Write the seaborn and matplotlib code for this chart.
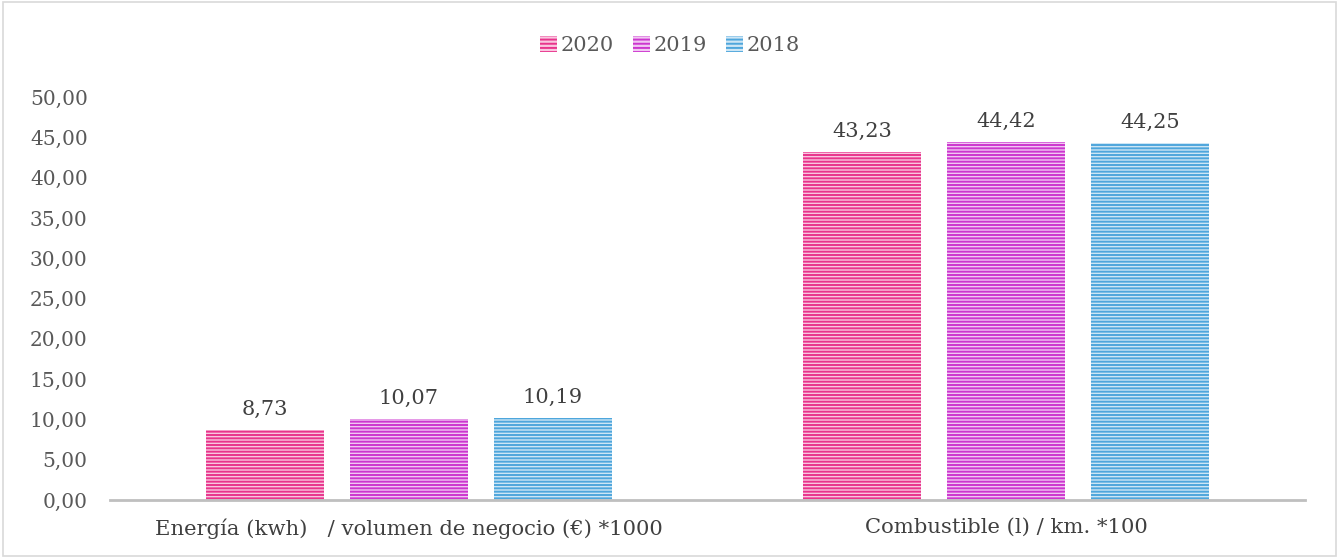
"""Gráfico de barras: indicadores de consumo 2018-2020."""
import pandas as pd
import matplotlib.pyplot as plt
import seaborn as sns
from matplotlib.colors import to_rgb
from matplotlib.patches import Rectangle, Patch

# Datos
categorias = ["Energía (kwh)   / volumen de negocio (€) *1000",
              "Combustible (l) / km. *100"]
anios = ["2020", "2019", "2018"]
valores_2020 = [8.73, 43.23]
valores_2019 = [10.07, 44.42]
valores_2018 = [10.19, 44.25]
ticks_y = [0, 5, 10, 15, 20, 25, 30, 35, 40, 45, 50]

colores = ["#E8348C", "#CC36CF", "#4EA6DC"]


def tinte(c, f=0.72):
    r, g, b = to_rgb(c)
    return (r + (1 - r) * f, g + (1 - g) * f, b + (1 - b) * f)


df = pd.DataFrame({
    "categoria": categorias * 3,
    "anio": [a for a in anios for _ in categorias],
    "valor": valores_2020 + valores_2019 + valores_2018,
})

sns.set_style("white")
plt.rcParams['font.family'] = ['DejaVu Serif']
plt.rcParams['hatch.linewidth'] = 1.4

fig = plt.figure(figsize=(13.4, 5.58), dpi=100)
ax = fig.add_axes([0.082, 0.104, 0.892, 0.722])

sns.barplot(data=df, x="categoria", y="valor", hue="anio", hue_order=anios,
            palette=colores, width=0.723, gap=0.18, ax=ax, legend=False)

for cont, c in zip(ax.containers, colores):
    for bar in cont:
        bar.set_facecolor(tinte(c))
        bar.set_hatch("-----")
        bar.set_edgecolor(c)
        bar.set_linewidth(0)
    ax.bar_label(cont, labels=[f"{b.get_height():.2f}".replace(".", ",") for b in cont],
                 padding=8, fontsize=15, color="#404040")

ax.set_ylim(0, 50)
ax.set_yticks(ticks_y)
ax.set_yticklabels([f"{t:.2f}".replace(".", ",") for t in ticks_y])
ax.set_xlim(-0.5, 1.5)
ax.set_xlabel("")
ax.set_ylabel("")
ax.tick_params(axis="y", labelsize=14.5, labelcolor="#595959", length=0, pad=16)
ax.tick_params(axis="x", labelsize=15.2, labelcolor="#404040", length=0, pad=13)

for s in ["top", "right", "left"]:
    ax.spines[s].set_visible(False)
ax.spines["bottom"].set_color("#BFBFBF")
ax.spines["bottom"].set_linewidth(2)

handles = [Patch(facecolor=tinte(c), edgecolor=c, hatch="----", linewidth=0) for c in colores]
fig.legend(handles, anios, loc="center", bbox_to_anchor=(0.5, 0.918), ncol=3,
           frameon=False, fontsize=15, handlelength=0.8, handleheight=0.8,
           handletextpad=0.2, columnspacing=0.9, labelcolor="#595959")

fig.patches.append(Rectangle((0.002, 0.003), 0.995, 0.993, transform=fig.transFigure,
                             fill=False, edgecolor="#D9D9D9", linewidth=1.2))

fig.savefig("out.png", dpi=100)
